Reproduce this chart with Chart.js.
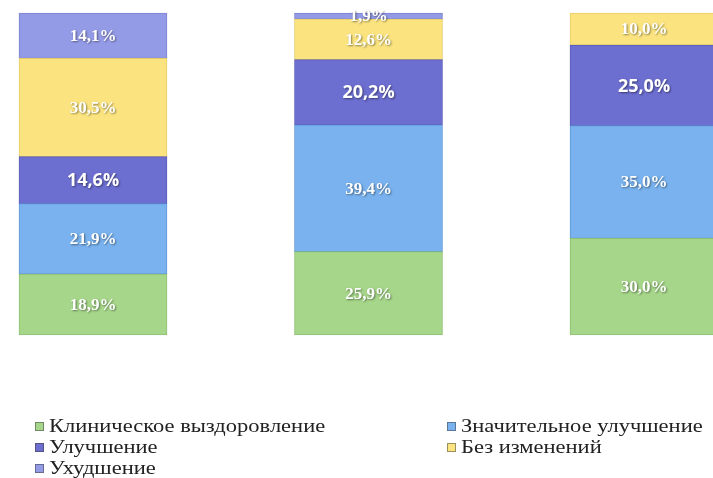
<!DOCTYPE html>
<html lang="ru">
<head>
<meta charset="UTF-8">
<title>Результаты лечения</title>
<script src="https://cdn.jsdelivr.net/npm/chart.js"></script>
<style>
    body {
        margin: 0;
        background: white;
    }
    .wrap {
        position: relative;
        width: 713px;
        height: 478px;
        overflow: hidden;
    }
    #legend {
        position: absolute;
        left: 35px;
        top: 416px;
        width: 670px;
        display: grid;
        grid-template-columns: 412px 258px;
        font-family: 'Liberation Serif', 'DejaVu Serif', serif;
        font-size: 18px;
        line-height: 21px;
        color: #222;
    }
    .item {
        display: flex;
        align-items: center;
        white-space: nowrap;
    }
    .box {
        width: 7px;
        height: 7px;
        margin-right: 5px;
        border: 1px solid rgba(60, 60, 60, 0.5);
        flex: none;
    }
    .txt {
        display: inline-block;
        transform: scaleX(1.25);
        transform-origin: left center;
    }
</style>
</head>
<body>
<div class="wrap">
    <canvas id="chart" width="713" height="478"></canvas>
    <div id="legend"></div>
</div>
<script>
// groups (no visible axis labels in the picture)
const groups = ['Группа 1', 'Группа 2', 'Группа 3'];

// series, bottom to top, in %
const seriesNames = ['Клиническое выздоровление', 'Значительное улучшение', 'Улучшение', 'Без изменений', 'Ухудшение'];
const recovery    = [18.9, 25.9, 30.0];
const significant = [21.9, 39.4, 35.0];
const improvement = [14.6, 20.2, 25.0];
const noChange    = [30.5, 12.6, 10.0];
const worsening   = [14.1, 1.9, 0];

const colors  = ['#a6d68a', '#79b2ee', '#6c6ed0', '#fbe47f', '#949be6'];
const borders = ['#8fbf73', '#5f97d8', '#5a5cbb', '#e6cc66', '#7b82d2'];

const seriesData = [recovery, significant, improvement, noChange, worsening];

const datasets = seriesData.map((d, i) => ({
    label: seriesNames[i],
    data: d,
    backgroundColor: colors[i],
    borderColor: borders[i],
    borderWidth: 1,
    borderSkipped: false,
    barThickness: 148,
    clip: false
}));

// white value labels in the middle of each segment
const segmentLabels = {
    id: 'segmentLabels',
    afterDatasetsDraw(chart) {
        const ctx = chart.ctx;
        ctx.save();
        ctx.textAlign = 'center';
        ctx.textBaseline = 'middle';
        ctx.fillStyle = '#ffffff';
        ctx.shadowColor = 'rgba(0,0,0,0.45)';
        ctx.shadowBlur = 2;
        ctx.shadowOffsetX = 1;
        ctx.shadowOffsetY = 1;
        chart.data.datasets.forEach((ds, i) => {
            const meta = chart.getDatasetMeta(i);
            if (i === 2) {
                ctx.font = 'bold 18px "Open Sans", sans-serif';
            } else {
                ctx.font = 'bold 17px "Liberation Serif", serif';
            }
            meta.data.forEach((bar, j) => {
                const v = ds.data[j];
                if (!v) return;
                const y = (bar.y + bar.base) / 2;
                ctx.fillText(v.toFixed(1).replace('.', ',') + '%', bar.x, y + 1);
            });
        });
        ctx.restore();
    }
};

new Chart(document.getElementById('chart'), {
    type: 'bar',
    data: { labels: groups, datasets: datasets },
    options: {
        responsive: false,
        animation: false,
        layout: {
            padding: { left: 93, right: 69, top: 13, bottom: 143 }
        },
        scales: {
            x: {
                stacked: true,
                offset: false,
                display: false
            },
            y: {
                stacked: true,
                min: 0,
                max: 100,
                display: false
            }
        },
        plugins: {
            legend: { display: false },
            tooltip: { enabled: false }
        }
    },
    plugins: [segmentLabels]
});

// legend in two columns, filled row by row
const legend = document.getElementById('legend');
seriesNames.forEach((name, i) => {
    const item = document.createElement('div');
    item.className = 'item';
    item.innerHTML = '<span class="box" style="background:' + colors[i] + '"></span><span class="txt">' + name + '</span>';
    legend.appendChild(item);
});
</script>
</body>
</html>
